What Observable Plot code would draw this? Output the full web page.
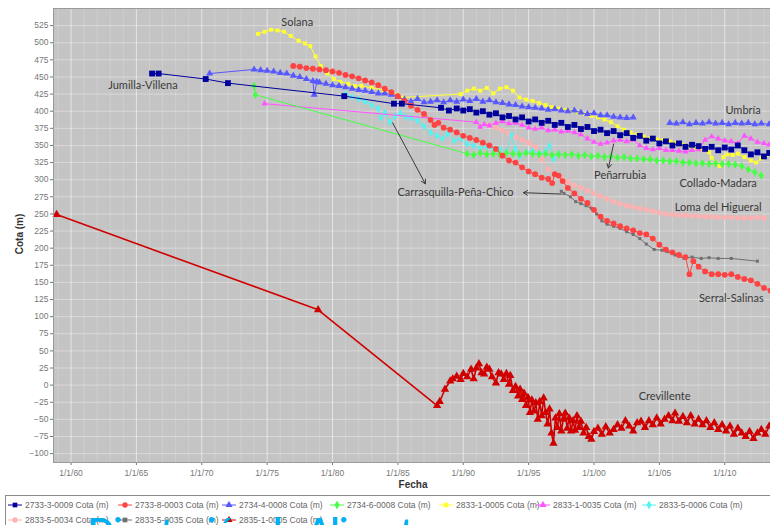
<!DOCTYPE html>
<html><head><meta charset="utf-8">
<script src="https://cdn.jsdelivr.net/npm/d3@7"></script>
<script src="https://cdn.jsdelivr.net/npm/@observablehq/plot@0.6"></script>
<style>
body{margin:0;background:#fff;}
#wrap{position:relative;width:770px;height:525px;overflow:hidden;background:#fff;}
#chart{position:absolute;left:0;top:0;}
.axlab{position:absolute;font-family:"Liberation Sans",Arial,sans-serif;font-weight:bold;font-size:10px;color:#333;white-space:nowrap;}
#legend{position:absolute;left:5px;top:495px;width:780px;height:40px;border:1px solid #8a8a8a;background:#fff;}
.li{position:absolute;font-family:"Liberation Sans",Arial,sans-serif;font-size:8.5px;color:#666;white-space:nowrap;display:flex;align-items:center;}
.li svg{margin-right:3px;}
#banner{position:absolute;left:0;top:0;}
</style></head>
<body><div id="wrap"><div id="chart"></div>
<div class="axlab" id="ylab" style="left:19px;top:234px;transform:translate(-50%,-50%) rotate(-90deg);">Cota (m)</div>
<div class="axlab" style="left:413px;top:484px;transform:translate(-50%,-50%);">Fecha</div>
<div id="legend"></div>
<svg id="banner" width="770" height="525"><text x="88" y="543" font-family="Lato, sans-serif" font-weight="bold" font-size="34" fill="#00b0f0">Diputación de Alicante</text></svg>
</div>
<script>
// ---------- data ----------
const codes = ["2733-3-0009","2733-8-0003","2734-4-0008","2734-6-0008","2833-1-0005","2833-1-0035","2833-5-0006","2833-5-0034","2833-5-0035","2835-1-0005"];
const xTickYears = [1960,1965,1970,1975,1980,1985,1990,1995,2000,2005,2010];
const yTickValues = [-100,-75,-50,-25,0,25,50,75,100,125,150,175,200,225,250,275,300,325,350,375,400,425,450,475,500,525];

// [year, cota (m)]
const s2733_3_0009 = [[1966.2,455],[1966.7,455],[1970.3,447],[1972.0,441],[1980.9,422],[1984.7,411],[1985.3,411],
 [1988.3,405],[1988.9,401],[1989.5,404],[1990.0,401],[1990.5,403],[1991.0,398],[1991.5,400],[1992.0,395],[1992.5,397],
 [1993.0,391],[1993.5,393],[1994.0,388],[1994.5,391],[1995.0,385],[1995.5,388],[1996.0,383],[1996.5,386],[1997.0,380],
 [1997.5,383],[1998.0,377],[1998.5,380],[1999.0,374],[1999.5,377],[2000.0,371],[2000.5,373],[2001.0,368],[2001.5,371],
 [2002.0,365],[2002.5,368],[2003.0,361],[2003.5,364],[2004.0,357],[2004.5,360],[2005.0,353],[2005.5,356],[2006.0,350],
 [2006.5,353],[2007.0,348],[2007.5,351],[2008.0,349],[2008.5,345],[2009.0,348],[2009.5,343],[2010.0,347],[2010.5,344],
 [2011.0,350],[2011.5,343],[2012.0,337],[2012.5,340],[2013.0,334],[2013.4,339]];
const s2733_8_0003 = [[1977.0,466],[1977.5,465],[1978.0,463],[1978.5,462],[1979.0,461],[1979.5,460],[1980.0,458],[1980.5,456],
 [1981.0,453],[1981.5,451],[1982.0,448],[1982.5,445],[1983.0,442],[1983.5,438],[1984.0,433],[1984.5,428],[1985.0,422],
 [1985.5,415],[1986.0,408],[1986.5,402],[1987.0,396],[1987.5,387],[1987.8,380],[1988.1,383],[1988.5,376],[1989.0,373],
 [1989.5,369],[1990.0,364],[1990.5,361],[1991.0,358],[1991.5,354],[1992.0,350],[1992.5,345],[1993.0,335],[1993.5,328],
 [1994.0,325],[1994.5,318],[1995.0,312],[1995.5,308],[1996.0,303],[1996.5,301],[1996.8,295],[1997.0,308],[1997.3,306],
 [1997.6,298],[1998.0,288],[1998.5,280],[1999.0,272],[1999.5,266],[2000.0,256],[2000.5,246],[2001.0,240],[2001.5,236],
 [2002.0,232],[2002.5,229],[2003.0,226],[2003.5,222],[2004.0,220],[2004.5,214],[2005.0,205],[2005.5,198],[2006.0,194],
 [2006.5,190],[2007.0,187],[2007.3,162],[2007.6,181],[2008.0,173],[2008.5,166],[2009.0,162],[2009.5,162],[2010.0,161],
 [2010.5,162],[2011.0,158],[2011.5,155],[2012.0,153],[2012.5,148],[2013.0,142],[2013.5,138]];
const s2734_4_0008 = [[1970.6,455],[1974.0,461],[1974.5,460],[1975.0,459],[1975.5,458],[1976.0,456],[1976.5,455],[1977.0,452],
 [1977.5,450],[1978.0,447],[1978.5,444],[1978.6,424],[1978.8,443],[1979.0,442],[1979.5,440],[1980.0,438],[1980.5,437],
 [1981.0,435],[1981.5,433],[1982.0,431],[1982.5,430],[1983.0,428],[1983.5,426],[1984.0,426],[1984.5,424],[1985.0,421],
 [1985.5,417],[1986.0,414],[1986.5,418],[1987.0,413],[1987.5,414],[1988.0,416],[1988.5,413],[1989.0,416],[1989.5,414],
 [1990.0,417],[1990.5,415],[1991.0,418],[1991.5,414],[1992.0,416],[1992.5,413],[1993.0,412],[1993.5,410],[1994.0,409],
 [1994.5,407],[1995.0,406],[1995.5,405],[1996.0,404],[1996.5,402],[1997.0,403],[1997.5,401],[1998.0,400],[1998.5,401],
 [1999.0,398],[1999.5,396],[2000.0,397],[2000.5,394],[2001.0,394],[2001.5,392],[2002.0,391],[2002.5,390],[2003.0,391],
 [2004.5,NaN],[2005.8,383],[2006.3,382],[2006.8,384],[2007.3,381],[2007.8,383],[2008.3,382],[2008.8,384],[2009.3,382],
 [2009.8,383],[2010.3,381],[2010.8,383],[2011.3,382],[2011.8,383],[2012.3,381],[2012.8,382],[2013.4,381]];
const s2734_6_0008 = [[1974.0,437],[1974.1,424],[1990.3,338],[1990.8,336],[1991.3,339],[1991.8,337],[1992.3,338],[1992.8,337],
 [1993.3,339],[1993.8,338],[1994.3,337],[1994.8,339],[1995.3,338],[1995.8,337],[1996.3,338],[1996.8,336],[1997.3,337],
 [1997.8,336],[1998.3,337],[1998.8,335],[1999.3,336],[1999.8,334],[2000.3,335],[2000.8,333],[2001.3,334],[2001.8,332],
 [2002.3,333],[2002.8,331],[2003.3,331],[2003.8,330],[2004.3,330],[2004.8,328],[2005.3,328],[2005.8,327],[2006.3,327],
 [2006.8,325],[2007.3,325],[2007.8,324],[2008.3,324],[2008.8,323],[2009.3,324],[2009.8,323],[2010.3,323],[2010.8,322],
 [2011.3,320],[2011.8,315],[2012.3,311],[2012.8,306]];
const s2833_1_0005 = [[1974.3,513],[1974.8,516],[1975.3,519],[1975.8,518],[1976.3,516],[1976.8,510],[1977.4,503],[1977.9,499],
 [1978.3,495],[1978.7,480],[1979.1,466],[1979.6,455],[1980.1,447],[1980.6,443],[1981.2,440],[1981.7,437],[1982.2,437],
 [1983.0,434],[1983.9,431],[1984.5,428],[1985.0,424],[1985.3,420],[1989.8,425],[1990.3,430],[1990.8,433],[1991.3,430],
 [1991.8,434],[1992.3,426],[1992.8,433],[1993.3,435],[1993.8,430],[1994.3,420],[1994.8,417],[1995.3,415],[1995.8,412],
 [1996.3,409],[1996.8,406],[1997.3,404],[1997.8,402],[1998.3,400],[1998.8,398],[1999.3,396],[1999.8,393],[2000.3,391],
 [2000.8,388],[2001.3,384],[2001.8,378],[2002.3,373],[2002.8,369],[2003.3,366],[2003.8,363],[2004.3,361],[2004.8,359],
 [2005.3,358],[2005.8,356],[2006.3,354],[2006.8,351],[2007.3,349],[2007.8,347],[2008.3,345],[2008.8,340],[2009.0,332],
 [2009.3,325],[2009.6,320],[2009.9,333],[2010.2,337],[2010.6,336],[2011.0,338],[2011.5,333],[2012.0,328],[2012.4,325],
 [2012.8,331],[2013.2,336]];
const s2833_1_0035 = [[1974.8,411],[1991.0,384],[1991.3,377],[1991.6,381],[1992.0,379],[1992.5,383],[1993.0,385],[1993.5,382],
 [1994.0,383],[1994.5,380],[1995.0,376],[1995.5,374],[1996.0,376],[1996.5,372],[1997.0,373],[1997.5,370],[1998.0,371],
 [1998.5,369],[1999.0,366],[1999.5,360],[2000.0,355],[2000.5,352],[2001.0,354],[2001.5,357],[2002.0,358],[2002.5,356],
 [2003.0,358],[2003.5,350],[2004.0,346],[2004.5,344],[2005.0,346],[2005.5,343],[2006.0,343],[2006.5,342],[2007.0,341],
 [2007.5,343],[2008.0,344],[2008.5,358],[2009.0,363],[2009.5,360],[2010.0,357],[2010.5,356],[2011.0,353],[2011.5,364],
 [2012.0,360],[2012.5,355],[2013.0,353],[2013.4,351]];
const s2833_5_0006 = [[1981.0,425],[1981.5,421],[1982.0,418],[1982.5,414],[1983.0,409],[1983.5,404],[1983.7,390],[1984.0,398],
 [1984.4,384],[1984.8,393],[1985.2,397],[1985.6,392],[1986.0,390],[1986.5,386],[1987.0,378],[1987.5,369],[1988.0,364],
 [1988.4,360],[1988.8,367],[1989.3,357],[1989.8,360],[1990.3,352],[1990.8,350],[1991.3,346],[1991.8,348],[1992.3,344],
 [1992.8,345],[1993.3,340],[1993.7,366],[1994.0,345],[1994.3,334],[1994.8,340],[1995.3,342],[1995.8,338],[1996.3,342],
 [1996.6,350],[1996.9,330],[1997.3,338]];
const s2833_5_0034 = [[1992.0,380],[1992.5,376],[1993.0,372],[1993.5,368],[1994.0,362],[1994.5,358],[1995.0,354],[1995.5,348],
 [1996.0,330],[1996.5,315],[1997.0,308],[1997.5,302],[1998.0,297],[1998.5,292],[1999.0,288],[1999.5,284],[2000.0,280],
 [2000.5,276],[2001.0,272],[2001.5,268],[2002.0,265],[2002.5,262],[2003.0,260],[2003.5,258],[2004.0,256],[2004.5,254],
 [2005.0,252],[2005.5,250],[2006.0,249],[2006.5,248],[2007.0,248],[2007.5,247],[2008.0,247],[2008.5,246],[2009.0,246],
 [2009.5,245],[2010.0,245],[2010.5,245],[2011.0,244],[2011.5,244],[2012.0,244],[2012.5,245],[2013.0,244]];
const s2833_5_0035 = [[1997.5,283],[1997.7,280],[1998.2,275],[1998.6,268],[1999.0,265],[1999.4,262],[1999.8,258],[2000.2,250],
 [2000.6,240],[2001.0,235],[2001.5,232],[2002.0,229],[2002.5,224],[2003.0,220],[2003.5,214],[2004.0,206],[2004.6,198],
 [2005.2,197],[2005.6,195],[2006.2,190],[2006.9,185],[2007.5,187],[2008.2,185],[2008.8,186],[2009.5,185],[2010.5,185],
 [2012.5,181]];
const s2835_1_0005 = [[1958.9,249],[1978.9,110],[1988.0,-30],[1988.2,-24],[1988.6,-6],[1989.0,6],[1989.2,9],[1989.5,13],
 [1989.8,8],[1990.0,17],[1990.3,12],[1990.6,23],[1990.8,9],[1991.0,25],[1991.2,31],[1991.4,18],[1991.6,16],[1991.8,26],
 [1992.0,23],[1992.2,12],[1992.5,3],[1992.7,18],[1992.9,16],[1993.1,8],[1993.3,17],[1993.5,1],[1993.6,14],[1993.8,-8],
 [1994.0,-2],[1994.2,-16],[1994.35,-6],[1994.5,-21],[1994.65,-12],[1994.8,-30],[1994.95,-18],[1995.1,-40],[1995.25,-22],
 [1995.4,-38],[1995.55,-26],[1995.7,-50],[1995.85,-24],[1996.0,-45],[1996.15,-19],[1996.3,-40],[1996.45,-57],[1996.6,-35],
 [1996.75,-70],[1996.9,-85],[1997.05,-48],[1997.2,-62],[1997.35,-42],[1997.5,-67],[1997.65,-50],[1997.8,-41],[1997.95,-63],
 [1998.1,-48],[1998.25,-67],[1998.4,-52],[1998.55,-66],[1998.7,-45],[1998.85,-62],[1999.0,-53],[1999.2,-70],[1999.4,-62],
 [1999.6,-75],[1999.8,-79],[2000.0,-68],[2000.3,-63],[2000.6,-72],[2000.9,-61],[2001.2,-70],[2001.5,-65],[2001.8,-58],
 [2002.1,-63],[2002.4,-52],[2002.7,-60],[2003.0,-67],[2003.3,-55],[2003.6,-53],[2003.9,-62],[2004.2,-52],[2004.5,-58],
 [2004.8,-48],[2005.1,-57],[2005.4,-50],[2005.7,-45],[2006.0,-52],[2006.2,-41],[2006.5,-53],[2006.8,-46],[2007.1,-55],
 [2007.4,-45],[2007.7,-57],[2008.0,-50],[2008.3,-58],[2008.6,-52],[2008.9,-62],[2009.2,-55],[2009.5,-65],[2009.8,-58],
 [2010.1,-67],[2010.4,-60],[2010.7,-72],[2011.0,-63],[2011.3,-70],[2011.6,-75],[2011.9,-68],[2012.2,-78],[2012.5,-70],
 [2012.8,-65],[2013.1,-72],[2013.4,-60]];

// annotations: name, year, cota
const zoneNames = ["Solana","Jumilla-Villena","Umbría","Peñarrubia","Collado-Madara","Carrasquilla-Peña-Chico","Loma del Higueral","Serral-Salinas","Crevillente"];
const zoneYears = [1977.3,1965.5,2011.4,2002.0,2009.5,1989.4,2009.5,2010.5,2005.4];
const zoneCotas = [529,437,401,306,294,281,260,127,-16];
// arrows: [year1, cota1, year2, cota2]
const arrowsData = [[1984.6,383,1987.1,294],[1997.5,279,1994.6,281],[2001.5,352,2001.1,317]];

// ---------- styles ----------
const styles = [
 {color:"#00009c", symbol:"square", r:3.3},
 {color:"#ff4242", symbol:"circle", r:2.9},
 {color:"#5858ff", symbol:"triangle", r:2.6},
 {color:"#44ff44", symbol:"diamond", r:2.6},
 {color:"#ffff33", symbol:"square", r:2.2},
 {color:"#ff55ff", symbol:"triangle", r:2.3},
 {color:"#55f2f2", symbol:"diamond", r:2.4},
 {color:"#ffb0b0", symbol:"circle", r:2.7},
 {color:"#707070", symbol:"square", r:1.7},
 {color:"#d00000", symbol:"triangle", r:3.1}
];
const allSeries = [s2733_3_0009,s2733_8_0003,s2734_4_0008,s2734_6_0008,s2833_1_0005,s2833_1_0035,s2833_5_0006,s2833_5_0034,s2833_5_0035,s2835_1_0005];
const series = codes.map((code,i)=>({code, points: allSeries[i], ...styles[i]}));

const marks = [
  Plot.frame({fill:"#c4c4c4"}),
  Plot.ruleX(d3.range(1959,2014), {stroke:"#fff", strokeOpacity:0.18}),
  Plot.ruleX(xTickYears, {stroke:"#fff", strokeOpacity:0.45}),
  Plot.ruleY(yTickValues, {stroke:"#fff", strokeOpacity:0.35})
];
for (const s of series.slice().reverse()) {
  marks.push(Plot.line(s.points, {x:d=>d[0], y:d=>d[1], stroke:s.color, strokeWidth: s.code==="2835-1-0005"?1.6:1}));
  marks.push(Plot.dot(s.points, {x:d=>d[0], y:d=>d[1], fill:s.color, r:s.r, symbol:s.symbol}));
}
const zones = zoneNames.map((n,i)=>({n, x:zoneYears[i], y:zoneCotas[i]}));
marks.push(Plot.arrow(arrowsData, {x1:d=>d[0], y1:d=>d[1], x2:d=>d[2], y2:d=>d[3], stroke:"#3a3a3a", strokeWidth:1, headLength:7}));
marks.push(Plot.text(zones, {x:"x", y:"y", text:"n", fontSize:11, fill:"#3a3a3a", fontFamily:"Lato, sans-serif"}));
marks.push(Plot.frame({stroke:"#9a9a9a"}));

const chart = Plot.plot({
  width:770, height:492,
  marginLeft:53, marginRight:0, marginTop:8, marginBottom:30,
  style:{background:"transparent", fontFamily:"Liberation Sans, Arial, sans-serif", fontSize:"8.5px", color:"#777"},
  x:{domain:[1958.66,2013.5], ticks:xTickYears, tickFormat:d=>"1/1/"+String(d%100).padStart(2,"0"), label:null, tickSize:3, tickPadding:4},
  y:{domain:[-113,550], ticks:yTickValues, label:null, tickSize:3, tickPadding:2},
  marks
});
document.getElementById("chart").appendChild(chart);

// ---------- legend ----------
const legendPos = [[2,4],[112,4],[216,4],[324,4],[433,4],[530,4],[636,4],[2,19],[112,19],[216,19]];
const legend = document.getElementById("legend");
series.forEach((s,i)=>{
  const div = document.createElement("div");
  div.className="li";
  div.style.left = legendPos[i][0]+"px";
  div.style.top = legendPos[i][1]+"px";
  const sym = d3.symbol(s.symbol==="circle"?d3.symbolCircle:s.symbol==="square"?d3.symbolSquare:s.symbol==="triangle"?d3.symbolTriangle:d3.symbolDiamond, 22)();
  div.innerHTML = `<svg width="14" height="8"><line x1="0" x2="14" y1="4" y2="4" stroke="${s.color}" stroke-width="1"/><path d="${sym}" transform="translate(7,4)" fill="${s.color}"/></svg><span>${s.code} Cota (m)</span>`;
  legend.appendChild(div);
});
</script></body></html>
